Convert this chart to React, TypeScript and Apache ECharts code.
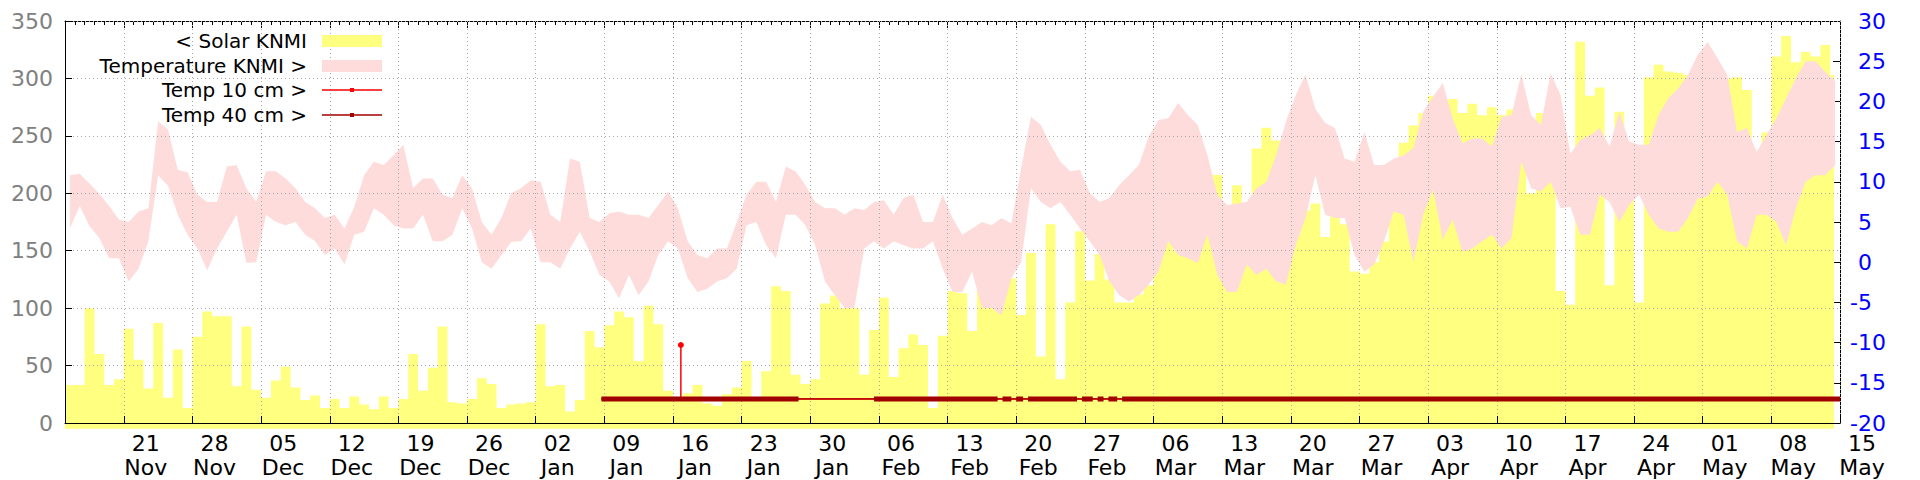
import { useEffect, useRef } from 'react';
import * as echarts from 'echarts';

// Days counted from 15 Nov (day 0) to 15 May (day 181)
const X_MIN_DAY = 0;
const X_MAX_DAY = 181;

const TICK_DAYS = [6, 13, 20, 27, 34, 41, 48, 55, 62, 69, 76, 83, 90, 97, 104, 111, 118, 125, 132, 139, 146, 153, 160, 167, 174, 181];
const TICK_LABELS = [
  '21\nNov', '28\nNov', '05\nDec', '12\nDec', '19\nDec', '26\nDec', '02\nJan', '09\nJan', '16\nJan', '23\nJan',
  '30\nJan', '06\nFeb', '13\nFeb', '20\nFeb', '27\nFeb', '06\nMar', '13\nMar', '20\nMar', '27\nMar', '03\nApr',
  '10\nApr', '17\nApr', '24\nApr', '01\nMay', '08\nMay', '15\nMay',
];

// Daily solar radiation (KNMI), one value per day starting at day 0
const SOLAR = [
  33, 33, 100, 60, 33, 38, 82, 55, 30, 87,
  22, 64, 13, 75, 97, 93, 93, 32, 84, 29,
  22, 37, 49, 31, 20, 24, 13, 21, 13, 23,
  16, 12, 23, 13, 21, 60, 28, 48, 84, 18,
  17, 21, 39, 34, 13, 16, 17, 18, 86, 32,
  33, 10, 20, 80, 66, 85, 97, 92, 54, 102,
  86, 28, 22, 26, 33, 17, 15, 25, 31, 54,
  20, 45, 119, 115, 42, 34, 38, 104, 111, 100,
  100, 42, 81, 109, 40, 65, 77, 68, 13, 76,
  115, 113, 80, 170, 170, 165, 126, 94, 148, 58,
  173, 38, 105, 167, 124, 147, 125, 105, 105, 112,
  120, 160, 160, 150, 150, 150, 170, 216, 150, 207,
  160, 239, 257, 246, 150, 165, 185, 191, 162, 180,
  173, 132, 130, 140, 158, 187, 244, 259, 270, 285,
  275, 282, 270, 278, 268, 275, 268, 273, 240, 200,
  270, 215, 115, 103, 332, 285, 292, 120, 271, 230,
  105, 301, 312, 306, 305, 303, 300, 300, 300, 300,
  301, 290, 230, 253, 319, 337, 314, 323, 319, 329,
  303,
];
const SOLAR_END_DAY = 180.4;

// Daily temperature range (KNMI), low and high
const TEMP_LOW = [
  4.2, 7.0, 4.5, 3.0, 0.5, 0.5, -2.4, -0.8, 2.6, 10.8,
  9.5, 5.9, 3.4, 1.7, -1.0, 1.7, 3.8, 5.9, -0.1, 0.0,
  5.9, 5.0, 4.6, 5.0, 3.4, 2.6, 0.9, 1.7, -0.3, 3.4,
  3.8, 6.7, 5.9, 4.6, 4.2, 4.2, 5.9, 2.6, 2.6, 3.4,
  6.7, 4.2, 0.0, -0.8, 0.9, 2.5, 2.6, 4.2, 0.0, 0.0,
  -0.8, 1.7, 3.8, 1.3, -1.6, -2.4, -4.5, -1.6, -4.1, -2.4,
  0.9, 2.6, 1.7, -2.0, -3.7, -3.3, -2.4, -2.0, -0.8, 4.6,
  5.0, 2.1, 0.5, 5.9, 5.9, 4.6, 2.1, -2.4, -4.1, -5.7,
  -5.7, 1.7, 2.6, 1.7, 2.6, 2.1, 1.7, 1.7, 2.6, -0.8,
  -3.7, -3.7, -1.2, -5.7, -5.7, -6.6, -2.0, 0.0, 9.2, 7.5,
  6.7, 7.5, 5.9, 4.2, 2.6, 0.9, -2.4, -4.1, -4.9, -4.1,
  -2.8, -1.2, 2.6, 0.9, 0.5, -0.1, 3.4, -1.6, -3.7, -3.7,
  -0.3, -1.6, -0.8, -2.4, -2.8, 2.1, 5.5, 10.8, 5.9, 5.5,
  5.5, 0.9, -1.2, -0.3, 2.6, 6.3, 5.9, 0.0, 5.9, 9.0,
  2.8, 5.3, 1.3, 1.7, 2.6, 3.4, 1.7, 3.0, 12.5, 9.2,
  8.8, 10.0, 6.7, 6.9, 3.4, 3.4, 8.4, 7.5, 5.0, 7.1,
  8.4, 5.9, 4.2, 3.8, 3.8, 5.5, 7.9, 8.2, 10.0, 8.4,
  2.6, 1.7, 5.9, 5.9, 5.0, 2.1, 6.7, 10.0, 10.8, 10.8,
  12.1,
];
const TEMP_HIGH = [
  10.8, 11.0, 9.8, 8.5, 7.0, 5.3, 5.0, 6.3, 6.7, 17.5,
  16.5, 11.5, 11.2, 8.4, 7.5, 7.5, 11.9, 12.1, 9.2, 7.5,
  11.3, 11.3, 10.4, 9.2, 7.5, 6.7, 5.5, 5.9, 4.2, 6.9,
  10.8, 12.5, 12.1, 13.3, 14.6, 9.2, 10.4, 10.4, 8.4, 8.0,
  10.8, 9.2, 5.0, 3.4, 5.5, 8.6, 9.2, 10.2, 10.0, 5.9,
  5.0, 12.9, 12.5, 5.5, 5.0, 6.1, 6.3, 5.9, 5.9, 5.5,
  7.1, 8.8, 6.7, 2.6, 0.9, 0.5, 1.7, 1.7, 5.0, 8.4,
  10.0, 10.0, 7.5, 11.9, 11.3, 9.6, 7.5, 6.7, 6.7, 5.9,
  6.7, 6.5, 7.5, 7.7, 5.9, 8.0, 8.4, 5.0, 5.0, 8.4,
  5.5, 3.4, 4.2, 5.0, 4.6, 5.5, 4.8, 11.7, 18.1, 17.1,
  14.6, 12.5, 11.3, 11.5, 8.6, 7.5, 8.0, 9.6, 10.8, 12.1,
  15.6, 17.7, 17.9, 19.8, 18.3, 17.1, 13.3, 8.4, 7.1, 7.3,
  7.5, 9.2, 10.0, 13.3, 17.5, 20.8, 23.3, 19.1, 17.3, 16.7,
  12.9, 12.5, 16.2, 12.1, 12.1, 12.9, 13.3, 14.2, 18.7, 20.6,
  22.3, 17.9, 14.8, 15.4, 15.4, 14.4, 18.1, 18.3, 23.4, 18.3,
  17.1, 23.5, 20.8, 13.5, 15.2, 15.8, 16.7, 14.4, 18.7, 15.0,
  14.6, 14.6, 18.3, 20.4, 21.6, 23.3, 25.8, 27.4, 25.4, 23.3,
  16.2, 16.7, 13.7, 15.8, 17.9, 20.4, 22.9, 25.0, 25.0, 23.7,
  22.5,
];

// Soil temperature 10 cm
const T10_DAYS = [54.7, 62.8, 62.8, 62.8, 181];
const T10_VALUES = [-17.0, -17.0, -10.3, -17.0, -17.0];

// Soil temperature 40 cm: level and the day ranges with dense data
const T40_LEVEL = -17.0;
const T40_SEGMENTS = [
  [54.7, 74.8], [82.5, 95.1], [95.6, 96.5], [97.0, 97.7], [98.2, 103.2],
  [103.7, 104.8], [105.3, 105.9], [106.4, 107.3], [107.8, 181],
];

const FONT = 'DejaVu Sans';
const YELLOW = '#ffff80';
const PINK = '#ffdcdc';
const RED = '#ff0000';
const DARK_RED = '#a00000';
const GRID_LINE = { color: '#a8a8a8', type: [1, 3] as number[], width: 1 };

export default function App() {
  const ref = useRef<HTMLDivElement>(null);

  useEffect(() => {
    if (!ref.current) return;
    const chart = echarts.init(ref.current, undefined, { renderer: 'svg' });

    const solarData: any[] = SOLAR.map((v, i) => [i, v]);
    solarData.push([SOLAR_END_DAY, SOLAR[SOLAR.length - 1]]);

    const bandData = TEMP_LOW.map((v, i) => [i + 0.5, v, TEMP_HIGH[i]]);

    const t10Data: any[] = T10_DAYS.map((d, i) => {
      if (T10_VALUES[i] !== T40_LEVEL) {
        return { value: [d, T10_VALUES[i]], symbol: 'circle', symbolSize: 6, itemStyle: { color: RED } };
      }
      return [d, T10_VALUES[i]];
    });

    const t40Thick: any[] = [];
    T40_SEGMENTS.forEach(([a, b]) => {
      t40Thick.push([a, T40_LEVEL]);
      t40Thick.push([b, T40_LEVEL]);
      t40Thick.push([b, '-']);
    });
    const t40Thin = [
      [T40_SEGMENTS[0][0], T40_LEVEL],
      [T40_SEGMENTS[T40_SEGMENTS.length - 1][1], T40_LEVEL],
    ];

    const tickLabel = (v: number) => {
      const idx = TICK_DAYS.indexOf(Math.round(v));
      return idx >= 0 ? TICK_LABELS[idx] : '';
    };

    const legendRows = [
      { y: 41, text: '< Solar KNMI' },
      { y: 66, text: 'Temperature KNMI >' },
      { y: 90, text: 'Temp 10 cm >' },
      { y: 115, text: 'Temp 40 cm >' },
    ];

    const hiddenLine = { show: false, onZero: false };

    const option: any = {
      animation: false,
      textStyle: { fontFamily: FONT },
      grid: [
        { left: 65, right: 80, top: 21, bottom: 57, containLabel: false, outerBoundsMode: 'none' },
        // date labels sit about two days right of their ticks
        { left: 87, right: 58, top: 21, bottom: 57, containLabel: false, outerBoundsMode: 'none' },
      ],
      xAxis: [
        {
          type: 'value', min: X_MIN_DAY, max: X_MAX_DAY, position: 'bottom', z: 3,
          axisLine: { show: true, onZero: false, lineStyle: { color: '#000', width: 1 } },
          axisTick: { show: true, inside: true, length: 7, customValues: TICK_DAYS, lineStyle: { color: '#000', width: 1 } },
          axisLabel: { show: false },
          splitLine: { show: true, lineStyle: GRID_LINE },
        },
        {
          type: 'value', min: X_MIN_DAY, max: X_MAX_DAY, interval: 1, position: 'bottom',
          axisLine: hiddenLine, axisLabel: { show: false }, splitLine: { show: false },
          axisTick: { show: true, inside: true, length: 4, lineStyle: { color: '#000', width: 1 } },
        },
        {
          type: 'value', min: X_MIN_DAY, max: X_MAX_DAY, position: 'top',
          axisLine: { show: true, onZero: false, lineStyle: { color: '#000', width: 1 } },
          axisTick: { show: true, inside: true, length: 7, customValues: TICK_DAYS, lineStyle: { color: '#000', width: 1 } },
          axisLabel: { show: false }, splitLine: { show: false },
        },
        {
          type: 'value', min: X_MIN_DAY, max: X_MAX_DAY, interval: 1, position: 'top',
          axisLine: hiddenLine, axisLabel: { show: false }, splitLine: { show: false },
          axisTick: { show: true, inside: true, length: 4, lineStyle: { color: '#000', width: 1 } },
        },
        {
          type: 'value', gridIndex: 1, min: X_MIN_DAY, max: X_MAX_DAY, position: 'bottom',
          axisLine: hiddenLine, splitLine: { show: false },
          axisTick: { show: false, customValues: TICK_DAYS },
          axisLabel: {
            show: true, customValues: TICK_DAYS, formatter: tickLabel, color: '#000',
            showMinLabel: true, showMaxLabel: true, hideOverlap: false,
            fontSize: 22, lineHeight: 24, margin: 8, fontFamily: FONT, align: 'center',
          },
        },
      ],
      yAxis: [
        {
          type: 'value', min: 0, max: 350, interval: 50, position: 'left', z: 3,
          axisLine: { show: true, onZero: false, lineStyle: { color: '#000', width: 1 } },
          axisTick: { show: true, inside: true, length: 7, lineStyle: { color: '#000', width: 1 } },
          axisLabel: { color: '#808080', fontSize: 22, margin: 12, fontFamily: FONT },
          splitLine: { show: true, lineStyle: GRID_LINE },
        },
        {
          type: 'value', min: -20, max: 30, interval: 5, position: 'right',
          axisLine: { show: true, onZero: false, lineStyle: { color: '#000', width: 1 } },
          axisTick: { show: true, inside: true, length: 7, lineStyle: { color: '#000', width: 1 } },
          axisLabel: {
            color: '#0000ff', fontSize: 22, lineHeight: 16, margin: 10, align: 'left', fontFamily: FONT,
            formatter: (v: number) => (v < 0 ? `${v}` : `{p|${v}}`),
            rich: { p: { padding: [0, 0, 0, 8], color: '#0000ff', fontSize: 22, lineHeight: 16, fontFamily: FONT } },
          },
          splitLine: { show: false },
        },
        {
          type: 'value', gridIndex: 1, min: 0, max: 1, show: false,
        },
      ],
      series: [
        {
          name: '< Solar KNMI', type: 'line', xAxisIndex: 0, yAxisIndex: 0, step: 'end',
          data: solarData, symbol: 'none', showSymbol: false, clip: false, z: 1,
          lineStyle: { width: 0, color: YELLOW },
          areaStyle: { color: YELLOW, opacity: 1, origin: -5 },
        },
        {
          name: 'Temperature KNMI >', type: 'custom', xAxisIndex: 0, yAxisIndex: 1, z: 2,
          data: bandData,
          encode: { x: 0, y: [1, 2] },
          renderItem: (params: any, api: any) => {
            if (params.dataIndexInside !== 0) return null;
            const n = params.dataInsideLength;
            const upper: number[][] = [];
            const lower: number[][] = [];
            for (let i = 0; i < n; i++) {
              const x = api.value(0, i);
              upper.push(api.coord([x, api.value(2, i)]));
              lower.push(api.coord([x, api.value(1, i)]));
            }
            return {
              type: 'polygon',
              shape: { points: upper.concat(lower.reverse()) },
              style: { fill: PINK, stroke: null },
            };
          },
        },
        {
          name: 'Temp 10 cm >', type: 'line', xAxisIndex: 0, yAxisIndex: 1,
          data: t10Data, symbol: 'none', showSymbol: true, z: 5,
          lineStyle: { width: 1.5, color: RED }, itemStyle: { color: RED },
        },
        {
          name: 'Temp 40 cm >', type: 'line', xAxisIndex: 0, yAxisIndex: 1,
          data: t40Thin, symbol: 'none', showSymbol: false, z: 6,
          lineStyle: { width: 1.3, color: DARK_RED },
        },
        {
          name: 'Temp 40 cm points', type: 'line', xAxisIndex: 0, yAxisIndex: 1,
          data: t40Thick, symbol: 'none', showSymbol: false, connectNulls: false, z: 6,
          lineStyle: { width: 5, color: DARK_RED, cap: 'butt' },
        },
      ],
      graphic: [
        ...legendRows.map((r) => ({
          type: 'text', x: 307, y: r.y, z: 10,
          style: { text: r.text, fill: '#000', fontSize: 20, fontFamily: FONT, align: 'right', verticalAlign: 'middle' },
        })),
        { type: 'rect', x: 322, y: 35, z: 10, shape: { width: 60, height: 12 }, style: { fill: YELLOW } },
        { type: 'rect', x: 322, y: 60, z: 10, shape: { width: 60, height: 12 }, style: { fill: PINK } },
        { type: 'line', z: 10, shape: { x1: 322, y1: 90, x2: 382, y2: 90 }, style: { stroke: RED, lineWidth: 1.3 } },
        { type: 'rect', x: 350, y: 88, z: 10, shape: { width: 4, height: 4 }, style: { fill: RED } },
        { type: 'line', z: 10, shape: { x1: 322, y1: 115, x2: 382, y2: 115 }, style: { stroke: DARK_RED, lineWidth: 1.3 } },
        { type: 'rect', x: 350, y: 113, z: 10, shape: { width: 4, height: 4 }, style: { fill: DARK_RED } },
      ],
    };

    chart.setOption(option);
    return () => chart.dispose();
  }, []);

  return (
    <div
      ref={ref}
      style={{ position: 'fixed', left: 0, top: 0, width: 1920, height: 480, background: '#fff' }}
    />
  );
}
